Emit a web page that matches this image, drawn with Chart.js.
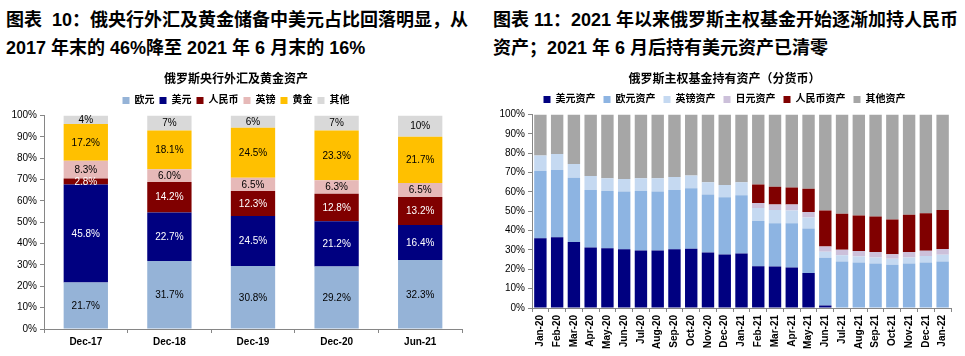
<!DOCTYPE html>
<html><head><meta charset="utf-8">
<script src="https://cdn.jsdelivr.net/npm/chart.js@4.4.0/dist/chart.umd.min.js"></script>
<style>
html,body{margin:0;padding:0;background:#fff;width:965px;height:356px;overflow:hidden;position:relative}
.t{position:absolute;font:bold 18px "Liberation Sans",Arial,"Noto Sans CJK SC",sans-serif;color:#000;line-height:28px;white-space:nowrap}
canvas{position:absolute}
</style></head><body>
<div class="t" style="left:6px;top:6px">图表&nbsp;&nbsp;10：俄央行外汇及黄金储备中美元占比回落明显，从<br>2017 年末的 46%降至 2021 年 6 月末的 16%</div>
<div class="t" style="left:493px;top:6px">图表 11：2021 年以来俄罗斯主权基金开始逐渐加持人民币<br>资产；2021 年 6 月后持有美元资产已清零</div>
<canvas id="c1" width="480" height="290" style="left:0;top:66px"></canvas>
<canvas id="c2" width="481" height="290" style="left:484px;top:66px"></canvas>
<script>
// ---- Chart 10 data ----
const leftCategories = ['Dec-17','Dec-18','Dec-19','Dec-20','Jun-21'];
const eurShare  = [21.7, 31.7, 30.8, 29.2, 32.3];
const usdShare  = [45.8, 22.7, 24.5, 21.2, 16.4];
const cnyShare  = [2.8, 14.2, 12.3, 12.8, 13.2];
const gbpShare  = [8.3, 6.0, 6.5, 6.3, 6.5];
const goldShare = [17.2, 18.1, 24.5, 23.3, 21.7];
const otherShare = [4, 7, 6, 7, 10];

// ---- Chart 11 data ----
const months = ['Jan-20','Feb-20','Mar-20','Apr-20','May-20','Jun-20','Jul-20','Aug-20','Sep-20','Oct-20','Nov-20','Dec-20',
  'Jan-21','Feb-21','Mar-21','Apr-21','May-21','Jun-21','Jul-21','Aug-21','Sep-21','Oct-21','Nov-21','Dec-21','Jan-22'];
const usdAssets = [36.0,36.5,34.1,31.3,30.8,30.3,29.7,29.7,30.3,30.6,28.7,27.6,28.1,21.6,21.4,20.9,18.1,1.3,0,0,0,0,0,0,0];
const eurAssets = [34.8,34.8,33.2,29.6,29.6,29.9,30.7,30.5,30.6,31.2,29.9,29.6,30.2,23.3,22.4,22.9,23.0,24.6,24.0,23.5,23.0,22.4,23.0,23.5,24.0];
const gbpAssets = [8.0,8.2,7.1,7.3,6.6,6.4,6.6,6.8,6.8,6.7,6.4,6.3,6.6,6.7,6.8,6.6,5.7,3.2,3.3,3.1,3.1,3.0,3.1,3.3,3.5];
const jpyAssets = [0,0,0,0,0,0,0,0,0,0,0,0,0,2.7,2.8,3.0,2.8,2.7,2.8,2.8,2.8,2.4,2.8,2.8,3.0];
const cnyAssets = [0,0,0,0,0,0,0,0,0,0,0,0,0,9.5,9.2,8.9,12.0,18.6,18.6,18.4,18.4,17.9,19.3,19.3,20.1];
const otherAssets = [21.2,20.5,25.6,31.8,33.0,33.4,33.0,33.0,32.3,31.5,35.0,36.5,35.1,36.2,37.4,37.7,38.4,49.6,51.3,52.2,52.7,54.3,51.8,51.1,49.4];
const yTicks = [0,10,20,30,40,50,60,70,80,90,100];

const FONT = '"Liberation Sans", Arial, "Noto Sans CJK SC", sans-serif';
Chart.defaults.font.family = FONT;
Chart.defaults.color = '#000';
Chart.defaults.animation = false;

// 100% stacked: each bar's shares scaled to its total (as Excel does)
const leftSeries = [eurShare, usdShare, cnyShare, gbpShare, goldShare, otherShare];
const totals = leftCategories.map((_, i) => leftSeries.reduce((s, a) => s + a[i], 0));
const pct = arr => arr.map((v, i) => v / totals[i] * 100);

const segLabels = {
  id: 'segLabels',
  afterDatasetsDraw(chart) {
    const ctx = chart.ctx;
    ctx.save();
    ctx.font = '10px ' + FONT;
    ctx.textAlign = 'center';
    ctx.textBaseline = 'middle';
    chart.data.datasets.forEach((ds, di) => {
      if (!ds.rawVals) return;
      chart.getDatasetMeta(di).data.forEach((el, i) => {
        const v = ds.rawVals[i];
        const txt = (ds.intLabel ? v.toFixed(0) : v.toFixed(1)) + '%';
        ctx.fillStyle = ds.labelColor;
        ctx.fillText(txt, el.x, (el.y + el.base) / 2 + 0.5);
      });
    });
    ctx.restore();
  }
};

function yScale(width) {
  return {
    stacked: true, min: 0, max: 100,
    afterBuildTicks: s => { s.ticks = yTicks.map(v => ({value: v})); },
    ticks: {callback: v => v + '%', font: {size: 10}, padding: 3, color: '#000'},
    grid: {drawOnChartArea: false, drawTicks: true, tickLength: 4, color: '#868686'},
    border: {color: '#868686'},
    afterFit: s => { s.width = width; }
  };
}

new Chart(document.getElementById('c1'), {
  type: 'bar',
  data: {
    labels: leftCategories,
    datasets: [
      {label: '欧元', data: pct(eurShare), rawVals: eurShare, backgroundColor: '#95B3D7', labelColor: '#000'},
      {label: '美元', data: pct(usdShare), rawVals: usdShare, backgroundColor: '#000080', labelColor: '#fff'},
      {label: '人民币', data: pct(cnyShare), rawVals: cnyShare, backgroundColor: '#800000', labelColor: '#fff'},
      {label: '英镑', data: pct(gbpShare), rawVals: gbpShare, backgroundColor: '#E6B9B8', labelColor: '#000'},
      {label: '黄金', data: pct(goldShare), rawVals: goldShare, backgroundColor: '#FFC000', labelColor: '#000'},
      {label: '其他', data: pct(otherShare), rawVals: otherShare, backgroundColor: '#D9D9D9', labelColor: '#000', intLabel: true}
    ]
  },
  options: {
    responsive: false, devicePixelRatio: 1,
    layout: {padding: {left: 10, right: 18, top: 0, bottom: 0}},
    datasets: {bar: {categoryPercentage: 1, barPercentage: 0.53, borderWidth: 0}},
    plugins: {
      title: {display: true, text: '俄罗斯央行外汇及黄金资产', font: {size: 12, weight: 'bold'}, color: '#000', padding: {top: 6, bottom: 4}},
      legend: {labels: {boxWidth: 7, boxHeight: 7, padding: 5, font: {size: 10, weight: 'bold'}, color: '#000'}},
      tooltip: {enabled: false}
    },
    scales: {
      x: {stacked: true,
        ticks: {font: {size: 10, weight: 'bold'}, padding: 3, color: '#000', maxRotation: 0},
        grid: {offset: true, drawOnChartArea: false, drawTicks: true, tickLength: 4, color: '#868686'},
        border: {color: '#868686'},
        afterFit: s => { s.height = 27; }},
      y: yScale(34)
    }
  },
  plugins: [segLabels]
});

new Chart(document.getElementById('c2'), {
  type: 'bar',
  data: {
    labels: months,
    datasets: [
      {label: '美元资产', data: usdAssets, backgroundColor: '#000080'},
      {label: '欧元资产', data: eurAssets, backgroundColor: '#8DB4E2'},
      {label: '英镑资产', data: gbpAssets, backgroundColor: '#C5D9F1'},
      {label: '日元资产', data: jpyAssets, backgroundColor: '#CCC0DA'},
      {label: '人民币资产', data: cnyAssets, backgroundColor: '#800000'},
      {label: '其他资产', data: otherAssets, backgroundColor: '#A6A6A6'}
    ]
  },
  options: {
    responsive: false, devicePixelRatio: 1,
    layout: {padding: {left: 14, right: 14, top: 0, bottom: 0}},
    datasets: {bar: {categoryPercentage: 1, barPercentage: 0.74, borderWidth: 0}},
    plugins: {
      title: {display: true, text: '俄罗斯主权基金持有资产（分货币）', font: {size: 12, weight: 'bold'}, color: '#000', padding: {top: 6, bottom: 0}},
      legend: {labels: {boxWidth: 7, boxHeight: 7, padding: 8, font: {size: 10, weight: 'bold'}, color: '#000'}},
      tooltip: {enabled: false}
    },
    scales: {
      x: {stacked: true,
        ticks: {font: {size: 10, weight: 'bold'}, padding: 3, color: '#000', minRotation: 90, maxRotation: 90, autoSkip: false},
        grid: {offset: true, drawOnChartArea: false, drawTicks: true, tickLength: 4, color: '#868686'},
        border: {color: '#868686'},
        afterFit: s => { s.height = 48; }},
      y: yScale(34)
    }
  }
});
</script>
</body></html>
